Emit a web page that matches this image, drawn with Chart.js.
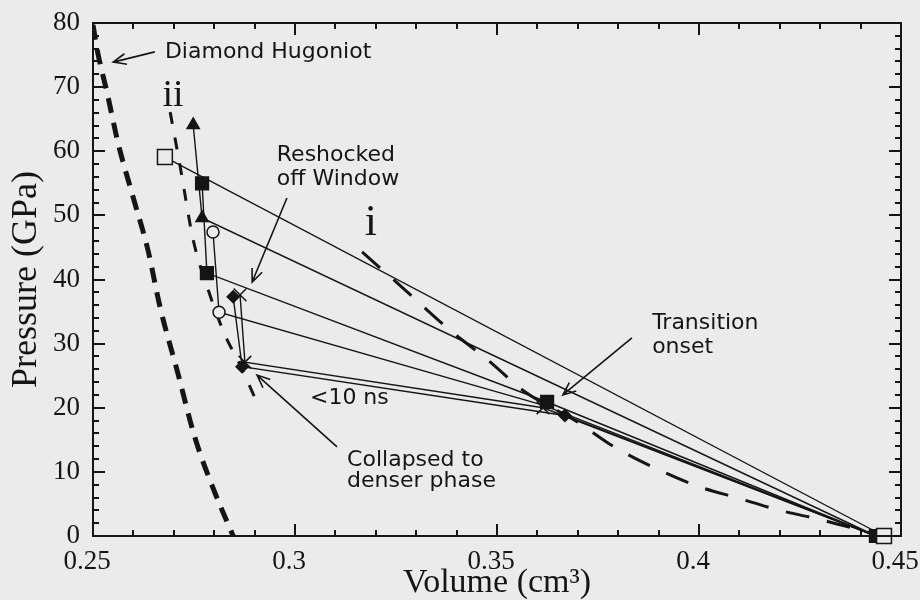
<!DOCTYPE html>
<html>
<head>
<meta charset="utf-8">
<script src="https://cdn.jsdelivr.net/npm/chart.js@4.4.1/dist/chart.umd.min.js"></script>
<style>
  html, body { margin: 0; padding: 0; background: #ebebeb; }
  #wrap { width: 920px; height: 600px; }
</style>
</head>
<body>
<div id="wrap"><canvas id="chart" width="920" height="600"></canvas></div>
<script>
// Diamond Hugoniot (thick dashed curve)
const hugoniotV = [0.2500, 0.2512, 0.2535, 0.2562, 0.2599, 0.2636, 0.2666, 0.2710, 0.2752, 0.2802, 0.2847];
const hugoniotP = [79.7, 75.3, 69.1, 61.3, 52.9, 44.6, 35.7, 25.4, 15.4, 6.7, 0];

// curve "ii" (thin dashed)
const curveIIV = [0.2691, 0.2715, 0.2748, 0.2785, 0.2827, 0.2864, 0.2901];
const curveIIP = [66.1, 57.9, 46.2, 38.4, 31.3, 26.7, 21.5];

// curve "i" (long dashes)
const curveIV = [0.3166, 0.3270, 0.3374, 0.3480, 0.3569, 0.3696, 0.3790, 0.3891, 0.3995, 0.4097, 0.4200, 0.4304, 0.4423];
const curveIP = [44.3, 38.5, 32.6, 27.3, 22.5, 17.9, 13.9, 10.6, 7.8, 5.9, 4.0, 2.5, 0.5];

// shots: initial state -> (transition) -> final states
const openSqV = [0.4458, 0.2678];
const openSqP = [0, 59.1];

const triV = [0.4438, 0.2770, 0.2748];
const triP = [0, 49.6, 64.1];

const fillSqV = [0.4438, 0.3624, 0.2782, 0.2770];
const fillSqP = [0, 20.9, 41.0, 55.0];

const circV = [0.4438, 0.3614, 0.2812, 0.2797];
const circP = [0, 20.4, 34.9, 47.4];

const diamV = [0.4438, 0.3668, 0.2869, 0.2847];
const diamP = [0, 18.8, 26.4, 37.3];

const crossV = [0.4438, 0.3614, 0.2876, 0.2864];
const crossP = [0, 20.0, 27.1, 37.6];

const xTickLabels = ['0.25', '0.3', '0.35', '0.4', '0.45'];
const yTickLabels = ['0', '10', '20', '30', '40', '50', '60', '70', '80'];

const BG = '#ebebeb';
const INK = '#151515';

function pts(vs, ps) {
    return vs.map((v, i) => ({ x: v, y: ps[i] }));
}

function curve(vs, ps, width, dash) {
    return {
        data: pts(vs, ps),
        borderColor: INK,
        borderWidth: width,
        borderDash: dash,
        borderCapStyle: 'butt',
        pointRadius: 0,
        cubicInterpolationMode: 'monotone',
        fill: false
    };
}

function shot(vs, ps, style, radii, filled) {
    return {
        data: pts(vs, ps),
        borderColor: INK,
        borderWidth: 1.4,
        pointStyle: style,
        pointRadius: radii,
        pointBackgroundColor: filled ? INK : BG,
        pointBorderColor: INK,
        pointBorderWidth: 1.5,
        clip: false,
        fill: false
    };
}

// background fill
const bgPlugin = {
    id: 'bg',
    beforeDraw(chart) {
        const ctx = chart.ctx;
        ctx.save();
        ctx.fillStyle = BG;
        ctx.fillRect(0, 0, chart.width, chart.height);
        ctx.restore();
    }
};

// frame with inward ticks on all four sides
const framePlugin = {
    id: 'frame',
    afterDraw(chart) {
        const { ctx, chartArea: a, scales: { x, y } } = chart;
        ctx.save();
        ctx.strokeStyle = INK;
        ctx.lineWidth = 2;
        ctx.strokeRect(a.left, a.top, a.right - a.left, a.bottom - a.top);
        ctx.beginPath();
        for (let i = 0; i <= 20; i++) {
            const v = 0.25 + i * 0.01;
            const px = Math.round(x.getPixelForValue(v));
            const len = i % 5 === 0 ? 12 : 6;
            ctx.moveTo(px, a.bottom); ctx.lineTo(px, a.bottom - len);
            ctx.moveTo(px, a.top); ctx.lineTo(px, a.top + len);
        }
        for (let i = 0; i <= 40; i++) {
            const py = Math.round(y.getPixelForValue(i * 2));
            const len = i % 5 === 0 ? 12 : 6;
            ctx.moveTo(a.left, py); ctx.lineTo(a.left + len, py);
            ctx.moveTo(a.right, py); ctx.lineTo(a.right - len, py);
        }
        ctx.stroke();
        ctx.restore();
    }
};

// annotations: labels and arrows in data coordinates
const notes = [
    { text: 'Diamond Hugoniot', v: 0.2678, p: 75.5, font: '22px "DejaVu Sans"' },
    { text: 'ii', v: 0.2698, p: 67.0, font: '38px "Liberation Serif"', align: 'center', base: 'alphabetic' },
    { text: 'i', v: 0.3188, p: 46.9, font: '44px "Liberation Serif"', align: 'center', base: 'alphabetic' },
    { text: 'Reshocked', v: 0.2955, p: 59.4, font: '22px "DejaVu Sans"' },
    { text: 'off Window', v: 0.2955, p: 55.6, font: '22px "DejaVu Sans"' },
    { text: 'Transition', v: 0.3884, p: 33.1, font: '22px "DejaVu Sans"' },
    { text: 'onset', v: 0.3884, p: 29.4, font: '22px "DejaVu Sans"' },
    { text: '<10 ns', v: 0.3037, p: 21.5, font: '22px "DejaVu Sans"' },
    { text: 'Collapsed to', v: 0.3129, p: 11.8, font: '22px "DejaVu Sans"' },
    { text: 'denser phase', v: 0.3129, p: 8.5, font: '22px "DejaVu Sans"' }
];
const arrows = [
    [0.2653, 75.5, 0.2550, 73.9],
    [0.2980, 52.7, 0.2894, 39.6],
    [0.3834, 30.9, 0.3663, 22.0],
    [0.3104, 13.9, 0.2906, 25.1]
];

const notePlugin = {
    id: 'notes',
    afterDraw(chart) {
        const { ctx, scales: { x, y } } = chart;
        ctx.save();
        ctx.fillStyle = INK;
        notes.forEach(n => {
            ctx.font = n.font;
            ctx.textAlign = n.align || 'left';
            ctx.textBaseline = n.base || 'middle';
            ctx.fillText(n.text, x.getPixelForValue(n.v), y.getPixelForValue(n.p));
        });
        ctx.strokeStyle = INK;
        ctx.lineWidth = 1.6;
        arrows.forEach(([v0, p0, v1, p1]) => {
            const x0 = x.getPixelForValue(v0), y0 = y.getPixelForValue(p0);
            const x1 = x.getPixelForValue(v1), y1 = y.getPixelForValue(p1);
            const ang = Math.atan2(y1 - y0, x1 - x0);
            const h = 14, s = 0.4;
            ctx.beginPath();
            ctx.moveTo(x0, y0); ctx.lineTo(x1, y1);
            ctx.moveTo(x1 - h * Math.cos(ang - s), y1 - h * Math.sin(ang - s));
            ctx.lineTo(x1, y1);
            ctx.lineTo(x1 - h * Math.cos(ang + s), y1 - h * Math.sin(ang + s));
            ctx.stroke();
        });
        ctx.restore();
    }
};

const ctx = document.getElementById('chart').getContext('2d');
new Chart(ctx, {
    type: 'line',
    data: {
        datasets: [
            shot(openSqV, openSqP, 'rect', [10.5, 10.5], false),
            shot(triV, triP, 'triangle', [0, 7, 7], true),
            shot(fillSqV, fillSqP, 'rect', [9, 9, 9, 9], true),
            shot(circV, circP, 'circle', [0, 0, 6, 6], false),
            shot(diamV, diamP, 'rectRot', [0, 6, 6, 6], true),
            shot(crossV, crossP, 'crossRot', [0, 9, 9, 9], true),
            curve(curveIV, curveIP, 3, [24, 18]),
            curve(curveIIV, curveIIP, 3, [12, 14]),
            curve(hugoniotV, hugoniotP, 5, [15, 10])
        ]
    },
    options: {
        responsive: false,
        animation: false,
        layout: { padding: { top: 23, right: 19, left: 0, bottom: 0 } },
        plugins: { legend: { display: false }, tooltip: { enabled: false } },
        scales: {
            x: {
                type: 'linear',
                min: 0.25,
                max: 0.45,
                grid: { display: false, drawTicks: false },
                border: { display: false },
                ticks: {
                    stepSize: 0.05,
                    padding: 10,
                    labelOffset: -6,
                    color: INK,
                    font: { family: 'Liberation Serif', size: 27 },
                    callback: (v, i) => xTickLabels[i]
                },
                title: {
                    display: true,
                    text: 'Volume (cm³)',
                    color: INK,
                    padding: 0,
                    font: { family: 'Liberation Serif', size: 34, lineHeight: 1 }
                },
                afterFit: s => { s.height = 64; s.paddingLeft = 0; s.paddingRight = 0; }
            },
            y: {
                type: 'linear',
                min: 0,
                max: 80,
                grid: { display: false, drawTicks: false },
                border: { display: false },
                ticks: {
                    stepSize: 10,
                    padding: 13,
                    color: INK,
                    font: { family: 'Liberation Serif', size: 27 },
                    callback: (v, i) => yTickLabels[i]
                },
                title: {
                    display: true,
                    text: 'Pressure (GPa)',
                    color: INK,
                    padding: { top: 9, bottom: 0 },
                    font: { family: 'Liberation Serif', size: 36, lineHeight: 1 }
                },
                afterFit: s => { s.width = 93; s.paddingTop = 0; s.paddingBottom = 0; }
            }
        }
    },
    plugins: [bgPlugin, framePlugin, notePlugin]
});
</script>
</body>
</html>
